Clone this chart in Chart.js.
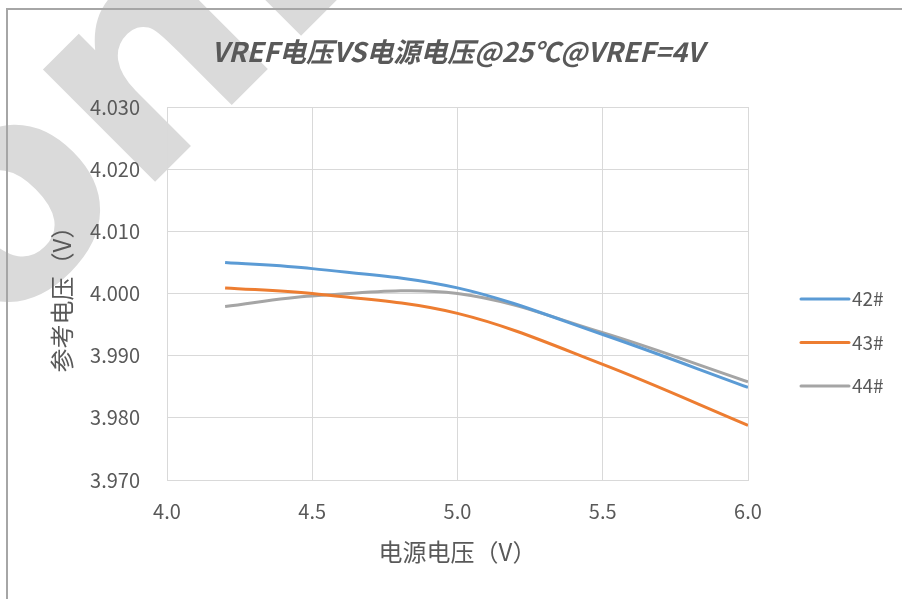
<!DOCTYPE html>
<html>
<head>
<meta charset="utf-8">
<script src="https://cdn.jsdelivr.net/npm/chart.js@4.4.1/dist/chart.umd.min.js"></script>
<style>
  body { margin: 0; background: #fff; }
  #wrap { width: 902px; height: 599px; }
</style>
</head>
<body>
<div id="wrap"><canvas id="vref-chart" width="902" height="599"></canvas></div>
<script>
// supply voltage (V)
const supplyVoltage = [4.2, 4.5, 5.0, 5.5, 6.0];
// reference voltage per sample (V)
const vref42 = [4.005, 4.004, 4.0009, 3.9934, 3.9849];
const vref43 = [4.0009, 4.0, 3.9968, 3.9886, 3.9788];
const vref44 = [3.9979, 3.9996, 4.0, 3.9937, 3.9858];
const sampleNames = ['42#', '43#', '44#'];
const lineColors = ['#5B9BD5', '#ED7D31', '#A5A5A5'];

const FONT = '"Noto Sans CJK SC", "Noto Sans", sans-serif';
const TEXT = '#595959';

const toPoints = (ys) => supplyVoltage.map((x, i) => ({ x: x, y: ys[i] }));

// light watermark and the outer frame, drawn under everything
const backdrop = {
  id: 'backdrop',
  beforeDraw: (chart) => {
    const ctx = chart.ctx;
    ctx.save();
    ctx.fillStyle = '#fff';
    ctx.fillRect(0, 0, chart.width, chart.height);

    const size = 290;
    ctx.font = 'bold ' + size + 'px "DejaVu Sans"';
    const ws = ctx.measureText('s').width;
    const wo = ctx.measureText('o').width;
    ctx.translate(10, 212);
    ctx.rotate(-Math.PI / 4);
    ctx.fillStyle = '#dadada';
    ctx.fillText('sonix', -(ws + wo / 2), size * 0.28);
    ctx.restore();

    ctx.save();
    ctx.strokeStyle = '#a6a6a6';
    ctx.lineWidth = 2;
    ctx.beginPath();
    ctx.moveTo(7, chart.height);
    ctx.lineTo(7, 9);
    ctx.lineTo(chart.width, 9);
    ctx.stroke();
    ctx.restore();
  },
};

// legend on the right, one short line per sample
const sideLegend = {
  id: 'sideLegend',
  afterDraw: (chart) => {
    const ctx = chart.ctx;
    const area = chart.chartArea;
    ctx.save();
    ctx.font = '19px ' + FONT;
    ctx.textBaseline = 'middle';
    ctx.fillStyle = TEXT;
    chart.data.datasets.forEach((ds, i) => {
      const y = area.top + 192 + i * 43.5;
      ctx.strokeStyle = ds.borderColor;
      ctx.lineWidth = 3;
      ctx.lineCap = 'round';
      ctx.beginPath();
      ctx.moveTo(area.right + 53, y);
      ctx.lineTo(area.right + 101, y);
      ctx.stroke();
      ctx.fillText(ds.label, area.right + 104, y);
    });
    ctx.restore();
  },
};

new Chart(document.getElementById('vref-chart'), {
  type: 'line',
  data: {
    datasets: [vref42, vref43, vref44].map((ys, i) => ({
      label: sampleNames[i],
      data: toPoints(ys),
      borderColor: lineColors[i],
      backgroundColor: lineColors[i],
      borderWidth: 3,
      pointRadius: 0,
      tension: 0.35,
      fill: false,
    })),
  },
  options: {
    responsive: false,
    animation: false,
    devicePixelRatio: 1,
    layout: { padding: { left: 0, right: 154, top: 0, bottom: 0 } },
    plugins: {
      legend: { display: false },
      tooltip: { enabled: false },
      title: {
        display: true,
        fullSize: false,
        text: 'VREF电压VS电源电压@25℃@VREF=4V',
        color: TEXT,
        font: { family: FONT, size: 27, weight: 'bold', style: 'italic', lineHeight: 1.2 },
        padding: { top: 36, bottom: 38.6 },
      },
    },
    scales: {
      x: {
        type: 'linear',
        min: 4.0,
        max: 6.0,
        afterFit: (scale) => { scale.height = 119; },
        grid: { color: '#d9d9d9', drawTicks: false },
        border: { color: '#d9d9d9' },
        ticks: {
          stepSize: 0.5,
          padding: 19,
          color: TEXT,
          font: { family: FONT, size: 20 },
          callback: (value) => Number(value).toFixed(1),
        },
        title: {
          display: true,
          text: '电源电压（V）',
          color: TEXT,
          font: { family: FONT, size: 24 },
          padding: { top: 0, bottom: 33 },
        },
      },
      y: {
        min: 3.97,
        max: 4.03,
        afterFit: (scale) => { scale.width = 167; },
        grid: { color: '#d9d9d9', drawTicks: false },
        border: { color: '#d9d9d9' },
        ticks: {
          stepSize: 0.01,
          padding: 27,
          color: TEXT,
          font: { family: FONT, size: 20 },
          callback: (value) => Number(value).toFixed(3),
        },
        title: {
          display: true,
          text: '参考电压（V）',
          color: TEXT,
          font: { family: FONT, size: 24 },
          padding: { top: 47, bottom: 0 },
        },
      },
    },
  },
  plugins: [backdrop, sideLegend],
});
</script>
</body>
</html>
